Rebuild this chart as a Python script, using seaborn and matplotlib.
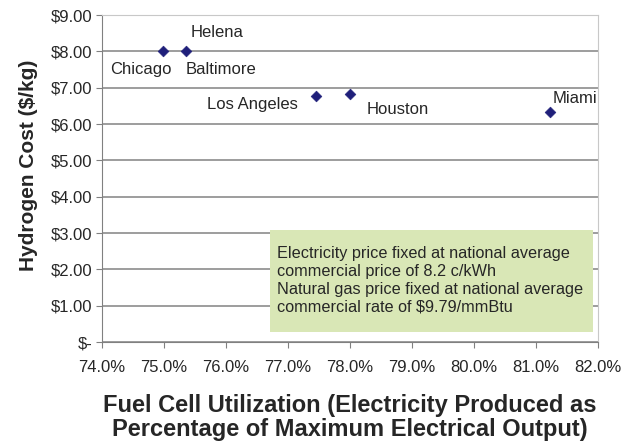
import matplotlib
matplotlib.use("Agg")
import matplotlib.pyplot as plt
from matplotlib.patches import Rectangle
import seaborn as sns
import pandas as pd

cities = ["Chicago", "Baltimore", "Los Angeles", "Houston", "Miami"]
utilization = [74.98, 75.35, 77.45, 78.0, 81.23]
cost = [8.01, 8.01, 6.76, 6.83, 6.34]
extra_label = "Helena"  # sits on the Baltimore point

y_ticks = [0, 1, 2, 3, 4, 5, 6, 7, 8, 9]
y_labels = ["\\$-"] + ["\\$%d.00" % v for v in y_ticks[1:]]
x_ticks = [74, 75, 76, 77, 78, 79, 80, 81, 82]
x_labels = ["%.1f%%" % v for v in x_ticks]

note = ("Electricity price fixed at national average\n"
        "commercial price of 8.2 c/kWh\n"
        "Natural gas price fixed at national average\n"
        "commercial rate of \\$9.79/mmBtu")

sns.set_style("white")
plt.rcParams["font.family"] = ["Liberation Sans", "DejaVu Sans"]

df = pd.DataFrame({"city": cities, "util": utilization, "cost": cost})

fig = plt.figure(figsize=(6.28, 4.44), dpi=100)
ax = fig.add_axes([0.1624, 0.2297, 0.790, 0.7365])

sns.scatterplot(data=df, x="util", y="cost", marker="D", s=30,
                color="#1f1f7a", edgecolor="#1f1f7a", ax=ax, zorder=3)

ax.set_xlim(74, 82)
ax.set_ylim(0, 9)
ax.set_xticks(x_ticks)
ax.set_xticklabels(x_labels, fontsize=12)
ax.set_yticks(y_ticks)
ax.set_yticklabels(y_labels, fontsize=12)
ax.yaxis.grid(True, color="#8c8c8c", linewidth=1.2)
ax.set_axisbelow(True)

for s in ["top", "right"]:
    ax.spines[s].set_color("#c8c8c8")
for s in ["left", "bottom"]:
    ax.spines[s].set_color("#808080")
ax.tick_params(axis="x", direction="out", length=4, color="#808080",
               bottom=True, pad=9)
ax.tick_params(axis="y", direction="out", length=4, color="#808080",
               left=True, pad=3)

ax.set_xlabel("Fuel Cell Utilization (Electricity Produced as\nPercentage of Maximum Electrical Output)",
              fontsize=17, fontweight="bold", linespacing=1.08)
ax.xaxis.set_label_coords(0.5, -0.158)
ax.set_ylabel("Hydrogen Cost (\\$/kg)", fontsize=15, fontweight="bold")
ax.yaxis.set_label_coords(-0.128, 0.54)

# point labels: (dx, dy, ha)
offsets = {
    "Chicago": (0.15, -0.52, "right"),
    "Baltimore": (0.0, -0.52, "left"),
    "Los Angeles": (-0.29, -0.22, "right"),
    "Houston": (0.26, -0.44, "left"),
    "Miami": (0.03, 0.36, "left"),
}
for c, x, y in zip(cities, utilization, cost):
    dx, dy, ha = offsets[c]
    ax.text(x + dx, y + dy, c, fontsize=12, ha=ha, va="center")
ax.text(utilization[1] + 0.08, cost[1] + 0.5, extra_label, fontsize=12,
        ha="left", va="center")

ax.add_patch(Rectangle((76.71, 0.28), 5.21, 2.81, facecolor="#d9e7b6",
                       edgecolor="none", zorder=4))
ax.text(76.82, 1.70, note, fontsize=11.7, ha="left", va="center",
        linespacing=1.22, zorder=5)

fig.savefig("out.png", dpi=100)
